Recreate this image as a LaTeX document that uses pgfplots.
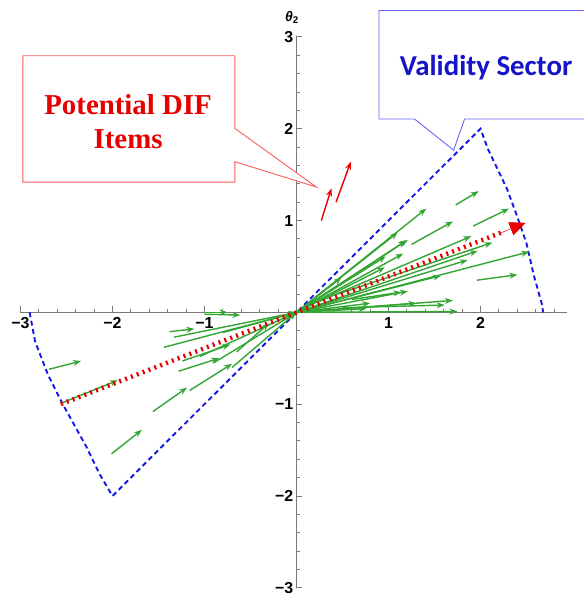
\documentclass[border=0pt]{standalone}
\usepackage{pgfplots}
\pgfplotsset{compat=1.18}
\usepackage{pgfplotstable}
\usepackage{fontspec}
\setmainfont{Liberation Sans}
\newfontfamily\serifbold{Liberation Serif}
\newfontfamily\calibri{Carlito}
\usetikzlibrary{arrows.meta}
\definecolor{mgreen}{RGB}{50,165,50}
\definecolor{mblue}{RGB}{20,20,230}
\definecolor{boxblue}{RGB}{100,100,250}
\definecolor{boxred}{RGB}{250,90,90}
\definecolor{txtred}{RGB}{230,0,0}
\definecolor{txtblue}{RGB}{20,20,200}
\definecolor{axgray}{RGB}{120,120,120}

\pgfplotstableread{
x y u v
0 0 1.41 1.13
1.73 1.17 0.25 0.15
1.92 0.94 0.39 0.19
1.25 0.74 0.45 0.25
0 0 1.10 0.87
0 0 1.21 0.79
0.25 0.12 1.65 0.71
0.45 0.20 1.68 0.56
0 0 2.53 0.66
0 0 1.16 0.64
0 0 1.97 0.67
0 0 1.86 0.57
1.96 0.35 0.44 0.06
0 0 1.57 0.40
0 0 1.21 0.23
0.6 0.14 0.54 0.08
0 0 1.70 0.13
0.5 0.05 1.11 0.03
0 0 1.75 0.01
0 0 0.97 0.61
0 0 0.49 0.38
0 0 0.96 0.49
0 0 1.30 0.10
0 0 0.80 0.10
0 0 0.76 0.04
0 0 1.19 0.78
-2.69 -0.62 0.35 0.09
-2.01 -1.54 0.33 0.26
-1.56 -1.08 0.37 0.26
-1.16 -0.85 0.46 0.29
-1.28 -0.64 0.44 0.14
-1.44 -0.38 1.44 0.38
-1.38 -0.21 0.27 0.03
-1.02 0.0 0.27 0.0
-1.0 -0.02 0.39 -0.01
-1.33 -0.27 1.33 0.27
-1.24 -0.53 0.52 0.18
-0.65 -0.43 0.35 0.31
-0.9 -0.55 0.9 0.55
-1.05 -0.48 1.05 0.48
-0.7 -0.6 0.7 0.6
-0.8 -0.22 0.8 0.22
-2.56 -0.99 0.62 0.25
}\greenarrows

\pgfplotstableread{
x y u v
0.27 1.00 0.11 0.35
0.43 1.20 0.16 0.44
}\redarrows

% tick marks: x-axis ticks point up, y-axis ticks point right
\pgfplotstableread{
x y u v
-3 0 0 0.065
-2.8 0 0 0.038
-2.6 0 0 0.038
-2.4 0 0 0.038
-2.2 0 0 0.038
-2 0 0 0.065
-1.8 0 0 0.038
-1.6 0 0 0.038
-1.4 0 0 0.038
-1.2 0 0 0.038
-1 0 0 0.065
-0.8 0 0 0.038
-0.6 0 0 0.038
-0.4 0 0 0.038
-0.2 0 0 0.038
0.2 0 0 0.038
0.4 0 0 0.038
0.6 0 0 0.038
0.8 0 0 0.038
1 0 0 0.065
1.2 0 0 0.038
1.4 0 0 0.038
1.6 0 0 0.038
1.8 0 0 0.038
2 0 0 0.065
2.2 0 0 0.038
2.4 0 0 0.038
2.6 0 0 0.038
2.8 0 0 0.038
0 -3 0.065 0
0 -2.8 0.038 0
0 -2.6 0.038 0
0 -2.4 0.038 0
0 -2.2 0.038 0
0 -2 0.065 0
0 -1.8 0.038 0
0 -1.6 0.038 0
0 -1.4 0.038 0
0 -1.2 0.038 0
0 -1 0.065 0
0 -0.8 0.038 0
0 -0.6 0.038 0
0 -0.4 0.038 0
0 -0.2 0.038 0
0 0.2 0.038 0
0 0.4 0.038 0
0 0.6 0.038 0
0 0.8 0.038 0
0 1 0.065 0
0 1.2 0.038 0
0 1.4 0.038 0
0 1.6 0.038 0
0 1.8 0.038 0
0 2 0.065 0
0 2.2 0.038 0
0 2.4 0.038 0
0 2.6 0.038 0
0 2.8 0.038 0
0 3 0.065 0
}\tickmarks

\begin{document}
\begin{tikzpicture}
\begin{axis}[
 x=92.5pt, y=92.3pt, xmin=-3, xmax=2.94, ymin=-3, ymax=3,
 axis lines=middle,
 axis line style={-, axgray, line width=0.8pt},
 xtick={-3,-2,-1,1,2}, xticklabels={−3,−2,−1,1,2},
 ytick={-3,-2,-1,1,2,3}, yticklabels={−3,−2,−1,1,2,3},
 major tick length=0pt, minor tick length=0pt,
 ticklabel style={font=\fontsize{16}{18}\selectfont\bfseries},
 yticklabel style={anchor=east, inner sep=2pt, xshift=-1pt},
 xticklabel style={anchor=north, inner sep=2pt, yshift=-3pt},
 clip=false,
]
% tick marks
\addplot[axgray, line width=0.9pt, quiver={u=\thisrow{u}, v=\thisrow{v}}] table {\tickmarks};
% validity sector boundary
\addplot[mblue, line width=1.9pt, dash pattern=on 5pt off 3.5pt] coordinates {
(-2.9,0) (-2.84,-0.32) (-2.7,-0.68) (-2.54,-1.0) (-2.28,-1.47) (-2.14,-1.76) (-2,-2) (0,0)
(2,2) (2.08,1.78) (2.29,1.34) (2.40,1.04) (2.50,0.75) (2.58,0.40) (2.67,0.08) (2.68,0)};
% green item vectors
\addplot[mgreen, line width=1.4pt, quiver={u=\thisrow{u}, v=\thisrow{v},
  every arrow/.append style={-{Stealth[length=8pt,width=6pt]}}}] table {\greenarrows};
% red DIF items
\addplot[txtred, line width=1.4pt, quiver={u=\thisrow{u}, v=\thisrow{v},
  every arrow/.append style={-{Stealth[length=8pt,width=6pt]}}}] table {\redarrows};
% reference direction
\addplot[txtred, line width=4.5pt, dash pattern=on 2pt off 4.3pt] coordinates {(-2.56,-1.0) (2.25,0.878)};
\addplot[txtred, line width=0.5pt, -{Triangle[length=16pt,width=14pt]}] coordinates {(2.2,0.858) (2.49,0.975)};

% callouts
\draw[boxred, line width=0.9pt, fill=white] (axis cs:-2.973,2.795) -- (axis cs:-0.670,2.795) -- (axis cs:-0.670,2.004) -- (axis cs:0.216,1.365) -- (axis cs:-0.670,1.641) -- (axis cs:-0.670,1.419) -- (axis cs:-2.973,1.419) -- cycle;
\node[txtred, font=\serifbold\bfseries\fontsize{29}{34}\selectfont, align=center] at (axis cs:-1.83,2.08) {Potential DIF\\Items};
\draw[boxblue, line width=0.9pt, fill=white] (axis cs:0.897,3.288) -- (axis cs:3.4,3.288) -- (axis cs:3.4,2.106) -- (axis cs:1.827,2.106) -- (axis cs:1.708,1.766) -- (axis cs:1.283,2.106) -- (axis cs:0.897,2.106) -- cycle;
\node[txtblue, font=\calibri\bfseries\fontsize{29}{32}\selectfont] at (axis cs:2.06,2.66) {Validity Sector};

\node[font=\fontsize{14}{16}\selectfont\bfseries] at (axis cs:-0.05,3.21) {\itshape θ\textsubscript{\upshape 2}};

\coordinate (bbTL) at (axis cs:-3.222,3.402);
\coordinate (bbBR) at (axis cs:3.114,-3.10);
\end{axis}
\pgfresetboundingbox
\path[use as bounding box] (bbTL) rectangle (bbBR);
\end{tikzpicture}
\end{document}
